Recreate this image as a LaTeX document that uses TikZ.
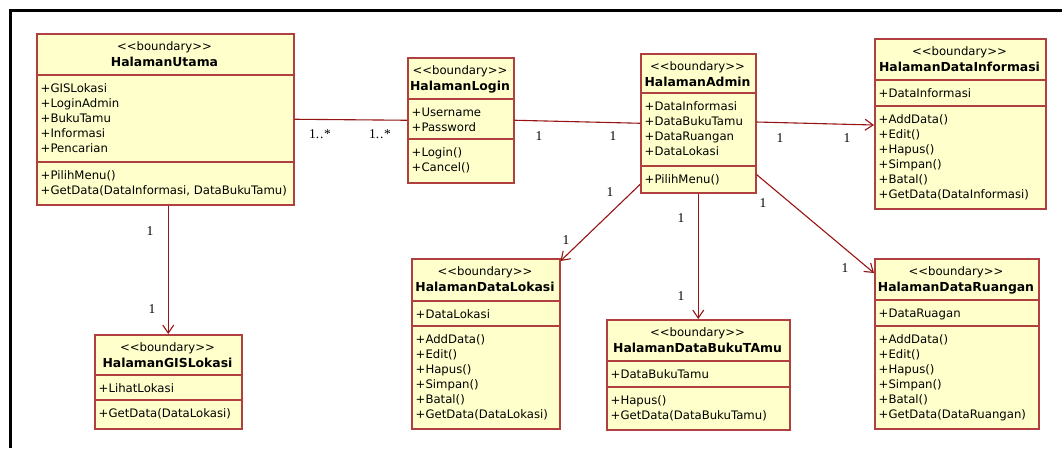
\documentclass[tikz,border=0pt]{standalone}
\usepackage{fontspec}
\setmainfont{DejaVu Sans}
\newfontfamily\multfont{Liberation Serif}
\usetikzlibrary{arrows.meta,calc}

\definecolor{classfill}{RGB}{255,255,204}
\definecolor{classedge}{RGB}{176,64,64}
\definecolor{assoc}{RGB}{150,20,20}

\tikzset{
  classbox/.style={draw=classedge, fill=classfill, line width=1.5pt, inner sep=0pt, anchor=north west},
  divider/.style={draw=classedge, line width=1.5pt},
  stereo/.style={anchor=base, inner sep=0pt, font=\fontsize{11.7}{13}\selectfont},
  cname/.style={anchor=base, inner sep=0pt, font=\fontsize{12.4}{14}\selectfont\bfseries},
  member/.style={anchor=base west, inner sep=0pt, font=\fontsize{11.7}{13}\selectfont},
  assocline/.style={draw=assoc, line width=1.1pt},
  navarrow/.style={assocline, -{Straight Barb[length=8pt,width=11pt]}},
  mult/.style={inner sep=0pt, font=\multfont\fontsize{13.5}{15}\selectfont},
}

% class box: name, x1, y1, x2, y2, first divider, second divider, class name, attributes
\newcommand\umlclass[9]{%
  \node[classbox, minimum width={(#4-#2)*1pt}, minimum height={(#5-#3)*1pt}] (#1) at (#2,#3) {};
  \draw[divider] (#2,#6) -- (#4,#6);
  \draw[divider] (#2,#7) -- (#4,#7);
  \node[stereo] (#1-st) at ({(#2+#4)/2},#3+17.5) {<{}<boundary>{}>};
  \node[cname] (#1-nm) at ({(#2+#4)/2},#3+33) {#8};
  \foreach \t [count=\i from 0] in {#9}
    \node[member] (#1-a\i) at (#2+4.5,#6+17+15*\i) {\t};
}
% operations compartment: name, x1, second divider, operations
\newcommand\umlops[4]{%
  \foreach \t [count=\i from 0] in {#4}
    \node[member] (#1-o\i) at (#2+4.5,#3+17+15*\i) {\t};
}

\begin{document}
\begin{tikzpicture}[x=1pt,y=-1pt]
\useasboundingbox (0,0) rectangle (1062,448);
\fill[white] (0,0) rectangle (1062,448);

% outer frame (left and top edges)
\draw[line width=3pt, line join=miter] (10,448) -- (10,10) -- (1062,10);

% classes
\umlclass{utama}{36}{33}{293}{204}{75}{162}{HalamanUtama}
  {+GISLokasi,+LoginAdmin,+BukuTamu,+Informasi,+Pencarian}
\umlops{utama}{36}{162}{+PilihMenu(),{+GetData(DataInformasi, DataBukuTamu)}}

\umlclass{login}{407}{57}{513}{182}{99}{139}{HalamanLogin}
  {+Username,+Password}
\umlops{login}{407}{139}{+Login(),+Cancel()}

\umlclass{admin}{640}{53}{755}{192}{93}{166}{HalamanAdmin}
  {+DataInformasi,+DataBukuTamu,+DataRuangan,+DataLokasi}
\umlops{admin}{640}{166}{+PilihMenu()}

\umlclass{dinfo}{874}{38}{1045}{208}{80}{106}{HalamanDataInformasi}
  {+DataInformasi}
\umlops{dinfo}{874}{106}{+AddData(),+Edit(),+Hapus(),+Simpan(),+Batal(),+GetData(DataInformasi)}

\umlclass{gis}{94}{334}{241}{428}{375}{400}{HalamanGISLokasi}
  {+LihatLokasi}
\umlops{gis}{94}{400}{+GetData(DataLokasi)}

\umlclass{dlok}{411}{258}{559}{428}{301}{326}{HalamanDataLokasi}
  {+DataLokasi}
\umlops{dlok}{411}{326}{+AddData(),+Edit(),+Hapus(),+Simpan(),+Batal(),+GetData(DataLokasi)}

\umlclass{dbuku}{606}{319}{789}{429}{361}{387}{HalamanDataBukuTAmu}
  {+DataBukuTamu}
\umlops{dbuku}{606}{387}{+Hapus(),+GetData(DataBukuTamu)}

\umlclass{drua}{874}{258}{1038}{428}{300}{326}{HalamanDataRuangan}
  {+DataRuagan}
\umlops{drua}{874}{326}{+AddData(),+Edit(),+Hapus(),+Simpan(),+Batal(),+GetData(DataRuangan)}

% associations
\draw[assocline] (utama.east) -- (login.west);
\draw[assocline] (login.east) -- (admin.west);
\draw[navarrow] ($(admin.north east)+(0,69)$) -- ($(dinfo.north west)+(0,87)$);
\draw[navarrow] (utama.south -| gis.north) -- (gis.north);
\draw[navarrow] ($(admin.south west)+(0,-9)$) -- ($(dlok.north east)+(0,3)$);
\draw[navarrow] (admin.south) -- (dbuku.north);
\draw[navarrow] ($(admin.south east)+(0,-19)$) -- ($(drua.north west)+(0,15)$);

% multiplicities
\node[mult] (m1) at (320,134) {1.\kern0.8pt.\kern0.8pt*};
\node[mult] (m2) at (380,134) {1.\kern0.8pt.\kern0.8pt*};
\node[mult] (m3) at (539,136) {1};
\node[mult] (m4) at (613,136) {1};
\node[mult] (m5) at (780,138) {1};
\node[mult] (m6) at (847,138) {1};
\node[mult] (m7) at (150,231) {1};
\node[mult] (m8) at (152,309) {1};
\node[mult] (m9) at (610,192) {1};
\node[mult] (m10) at (566,240) {1};
\node[mult] (m11) at (681,218) {1};
\node[mult] (m12) at (681,296) {1};
\node[mult] (m13) at (763,203) {1};
\node[mult] (m14) at (845,268) {1};
\end{tikzpicture}
\end{document}
